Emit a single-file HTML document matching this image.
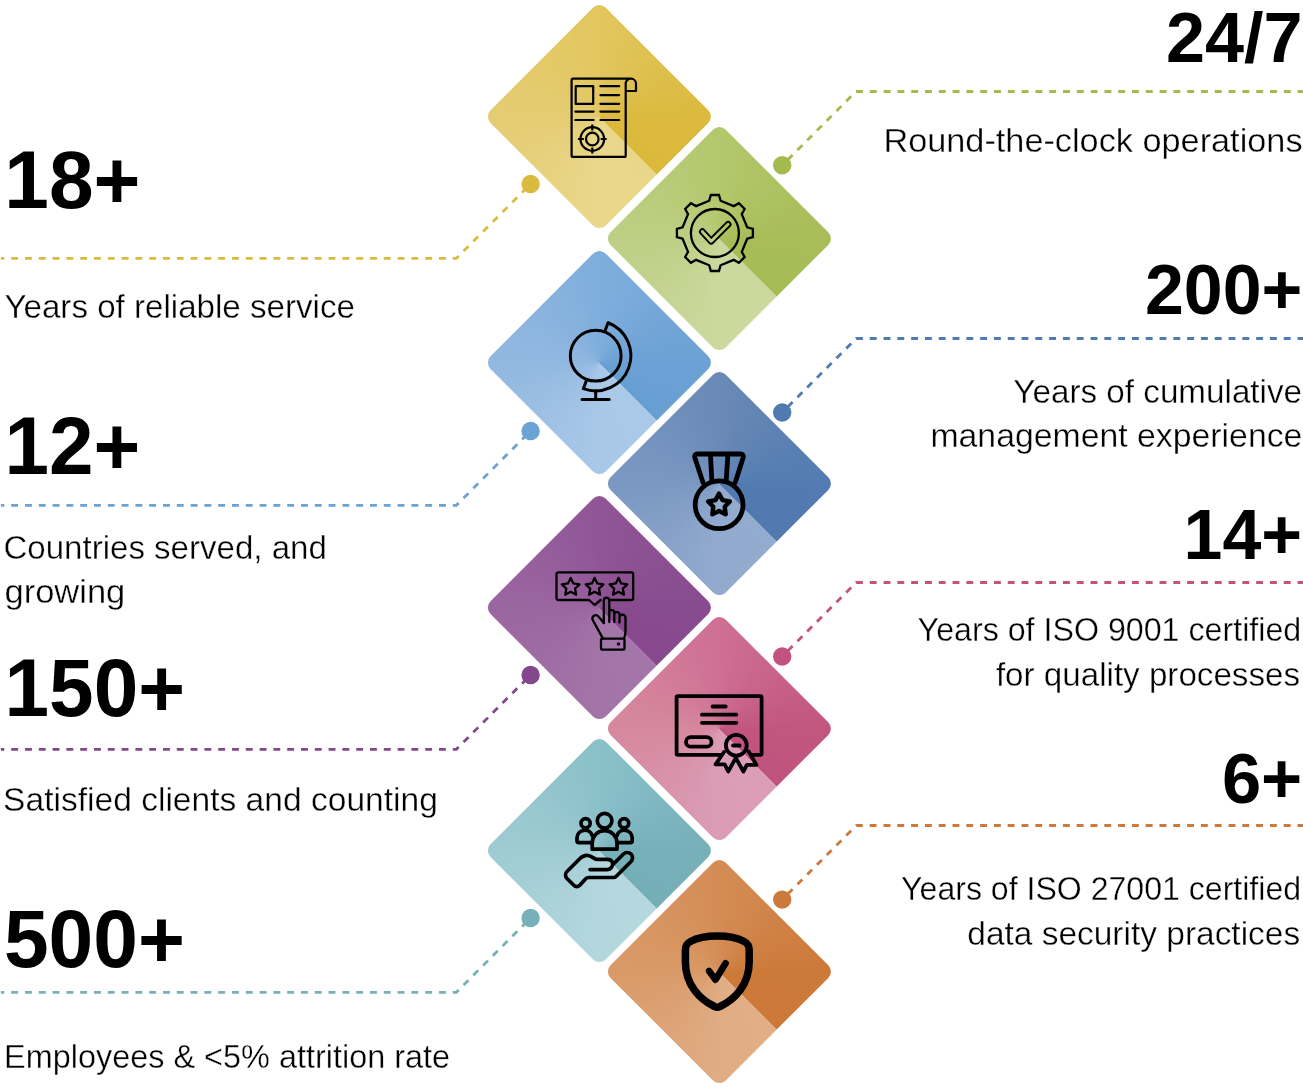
<!DOCTYPE html><html><head><meta charset="utf-8"><style>html,body{margin:0;padding:0;background:#fff}body{width:1303px;height:1088px;overflow:hidden;position:relative}svg{position:absolute;left:0;top:0}text{font-family:"Liberation Sans",sans-serif;fill:#000}</style></head><body>
<div style="position:absolute;left:517.95px;top:35.20px;width:162.8px;height:162.8px;border-radius:9.0px;transform:rotate(45deg);background:conic-gradient(from 90deg, #E9D68A 0deg, #EAD78B 45deg, #E4CC72 135deg, #E2C65E 225deg, #DBBA3F 315deg, #DAB93B 360deg)"></div>
<div style="position:absolute;left:638.05px;top:156.90px;width:162.8px;height:162.8px;border-radius:9.0px;transform:rotate(45deg);background:conic-gradient(from 90deg, #CBD99E 0deg, #CBD99E 45deg, #BDCF84 135deg, #B3C76C 225deg, #A8BD58 315deg, #A6BC55 360deg)"></div>
<div style="position:absolute;left:517.95px;top:280.60px;width:162.8px;height:162.8px;border-radius:9.0px;transform:rotate(45deg);background:conic-gradient(from 90deg, #ABC9E9 0deg, #A9C8E8 45deg, #92B8E0 135deg, #7FAEDC 225deg, #6BA1D4 315deg, #689FD3 360deg)"></div>
<div style="position:absolute;left:638.05px;top:402.20px;width:162.8px;height:162.8px;border-radius:9.0px;transform:rotate(45deg);background:conic-gradient(from 90deg, #93ABCF 0deg, #92AACE 45deg, #7A98C2 135deg, #6A89B6 225deg, #527CB1 315deg, #4F79AF 360deg)"></div>
<div style="position:absolute;left:517.95px;top:525.90px;width:162.8px;height:162.8px;border-radius:9.0px;transform:rotate(45deg);background:conic-gradient(from 90deg, #A475A9 0deg, #A374A8 45deg, #9A66A0 135deg, #905596 225deg, #894B8F 315deg, #87488E 360deg)"></div>
<div style="position:absolute;left:638.05px;top:647.20px;width:162.8px;height:162.8px;border-radius:9.0px;transform:rotate(45deg);background:conic-gradient(from 90deg, #DB9EB6 0deg, #DA9DB5 45deg, #D6889F 135deg, #CE6F93 225deg, #C2567F 315deg, #C0537D 360deg)"></div>
<div style="position:absolute;left:517.95px;top:768.50px;width:162.8px;height:162.8px;border-radius:9.0px;transform:rotate(45deg);background:conic-gradient(from 90deg, #B5D8DE 0deg, #B4D7DE 45deg, #9FCBD3 135deg, #8BC0C9 225deg, #76B0B9 315deg, #74AFB8 360deg)"></div>
<div style="position:absolute;left:638.05px;top:890.30px;width:162.8px;height:162.8px;border-radius:9.0px;transform:rotate(45deg);background:conic-gradient(from 90deg, #E1AE86 0deg, #E0AC84 45deg, #D99A68 135deg, #D48C55 225deg, #CC7A3A 315deg, #CB7838 360deg)"></div>
<svg width="1303" height="1088" viewBox="0 0 1303 1088">
<defs>
</defs>
<path d="M0.9 258.4 H456.2 L530.6 184.0" fill="none" stroke="#DBBB3F" stroke-width="2.8" stroke-dasharray="6.9 6.9" stroke-dashoffset="3.5"/>
<circle cx="530.6" cy="184.0" r="9.2" fill="#DBBB3F"/>
<path d="M0.9 505.3 H456.3 L530.6 431.0" fill="none" stroke="#6CA3D5" stroke-width="2.8" stroke-dasharray="6.9 6.9" stroke-dashoffset="3.5"/>
<circle cx="530.6" cy="431.0" r="9.2" fill="#6CA3D5"/>
<path d="M0.9 749.3 H456.3 L530.6 675.0" fill="none" stroke="#83488C" stroke-width="2.8" stroke-dasharray="6.9 6.9" stroke-dashoffset="3.5"/>
<circle cx="530.6" cy="675.0" r="9.2" fill="#83488C"/>
<path d="M0.9 992.3 H456.3 L530.6 918.0" fill="none" stroke="#76B0B9" stroke-width="2.8" stroke-dasharray="6.9 6.9" stroke-dashoffset="3.5"/>
<circle cx="530.6" cy="918.0" r="9.2" fill="#76B0B9"/>
<path d="M782.2 165.3 L856.0 91.5 H1303" fill="none" stroke="#A2BA4E" stroke-width="2.8" stroke-dasharray="6.9 6.9" stroke-dashoffset="6.0"/>
<circle cx="782.2" cy="165.3" r="9.2" fill="#A2BA4E"/>
<path d="M782.2 412.5 L856.2 338.5 H1303" fill="none" stroke="#4F7AB2" stroke-width="2.8" stroke-dasharray="6.9 6.9" stroke-dashoffset="6.0"/>
<circle cx="782.2" cy="412.5" r="9.2" fill="#4F7AB2"/>
<path d="M782.2 656.5 L856.2 582.5 H1303" fill="none" stroke="#C2537F" stroke-width="2.8" stroke-dasharray="6.9 6.9" stroke-dashoffset="6.0"/>
<circle cx="782.2" cy="656.5" r="9.2" fill="#C2537F"/>
<path d="M782.2 899.6 L856.3 825.5 H1303" fill="none" stroke="#CB7A3C" stroke-width="2.8" stroke-dasharray="6.9 6.9" stroke-dashoffset="6.0"/>
<circle cx="782.2" cy="899.6" r="9.2" fill="#CB7A3C"/>
<g fill="none" stroke="#000" stroke-linecap="round" stroke-linejoin="round">
<g stroke-width="2.2">
<path d="M625.7 91 V155.4 q0 1.5 -1.5 1.5 H573.1 q-1.5 0 -1.5 -1.5 V80.2 q0 -1.5 1.5 -1.5 H631 a5 5 0 0 1 5 5 V91 H625.7 V84 a5 5 0 0 1 5 -5.3"/>
<rect x="575.7" y="86.2" width="17.5" height="17.7"/>
<path d="M600.4 86.2 H619.2"/>
<path d="M600.4 95.1 H619.2"/>
<path d="M600.4 103.8 H619.2"/>
<path d="M600.4 111.6 H619.2"/>
<path d="M600.4 120 H619.2"/>
<path d="M575.3 111.6 H593.6"/>
<path d="M575.3 120 H593.6"/>
<circle cx="592.3" cy="139" r="11.8"/><circle cx="592.3" cy="139" r="6.3"/>
<path d="M592.3 124.6 V130.6 M592.3 147.4 V153.4 M577.9 139 H583.9 M600.7 139 H606.7" stroke-linecap="butt"/>
</g>
<path d="M709.20 200.70 L710.84 195.02 L718.96 195.02 L720.60 200.70 L733.71 206.13 L738.89 203.27 L744.63 209.01 L741.77 214.19 L747.20 227.30 L752.88 228.94 L752.88 237.06 L747.20 238.70 L741.77 251.81 L744.63 256.99 L738.89 262.73 L733.71 259.87 L720.60 265.30 L718.96 270.98 L710.84 270.98 L709.20 265.30 L696.09 259.87 L690.91 262.73 L685.17 256.99 L688.03 251.81 L682.60 238.70 L676.92 237.06 L676.92 228.94 L682.60 227.30 L688.03 214.19 L685.17 209.01 L690.91 203.27 L696.09 206.13 Z" stroke-width="2.3" stroke-linejoin="miter"/>
<circle cx="714.9" cy="233.0" r="24" stroke-width="2.3"/>
<mask id="ck" maskUnits="userSpaceOnUse" x="680" y="200" width="80" height="80"><rect x="680" y="200" width="80" height="80" fill="#fff"/><path d="M702.4 231.7 L711.2 241.2 L728.1 224.3" stroke="#000" stroke-width="3.0" fill="none" stroke-linecap="round" stroke-linejoin="round"/></mask>
<path d="M702.4 231.7 L711.2 241.2 L728.1 224.3" stroke-width="6.8" mask="url(#ck)"/>
<g stroke-width="3">
<circle cx="595.7" cy="355.7" r="25.4"/>
<path d="M605.16 330.41 L608.03 322.73 A35.2 35.2 0 0 1 583.37 388.67 L586.24 380.99"/>
<path d="M595.7 390.7 V399.4 M582 399.4 H609.2"/>
</g>
<g stroke-width="4.8">
<circle cx="719.1" cy="504.8" r="23.9"/>
<path d="M703 482.5 L694.8 457.5 Q694 454 697.5 454 H740.5 Q744 454 743.2 457.5 L735.2 482.5"/>
<path d="M710.5 456 L711.8 479.5 M727.8 456 L726.3 479.5"/>
<path d="M719.00 493.60 L722.53 500.15 L729.84 501.48 L724.71 506.85 L725.70 514.22 L719.00 511.00 L712.30 514.22 L713.29 506.85 L708.16 501.48 L715.47 500.15 Z" stroke-width="4.4"/>
</g>
<g stroke-width="2.3">
<path d="M609.5 600 H631.2 q2 0 2 -2 V574.4 q0 -2 -2 -2 H558.5 q-2 0 -2 2 V598 q0 2 2 2 H589.1 L594.6 605 L600.6 600"/>
<path d="M570.70 577.90 L573.40 583.48 L579.54 584.33 L575.07 588.62 L576.17 594.72 L570.70 591.80 L565.23 594.72 L566.33 588.62 L561.86 584.33 L568.00 583.48 Z"/>
<path d="M594.60 577.90 L597.30 583.48 L603.44 584.33 L598.97 588.62 L600.07 594.72 L594.60 591.80 L589.13 594.72 L590.23 588.62 L585.76 584.33 L591.90 583.48 Z"/>
<path d="M618.50 577.90 L621.20 583.48 L627.34 584.33 L622.87 588.62 L623.97 594.72 L618.50 591.80 L613.03 594.72 L614.13 588.62 L609.66 584.33 L615.80 583.48 Z"/>
<path d="M603.8 623 V600.5 a2.75 2.75 0 0 1 5.5 0 V622 M609.3 612.6 a2.5 2.5 0 0 1 5 0 V622 M614.3 614.8 a2.6 2.6 0 0 1 5.2 0 V622.5 M619.5 617.6 a3 3 0 0 1 6 0 V631 Q625.5 635 624 638.6"/>
<path d="M603.8 623 L598.5 616.5 Q596 614 593.5 616 Q591.5 618 593 620.5 L603 638.6"/>
<rect x="601" y="638.6" width="23.5" height="11" rx="1.2"/>
<circle cx="618.5" cy="644.1" r="0.6" fill="#000"/>
</g>
<g stroke-width="3.8">
<path d="M721.5 754.8 H678 q-1.4 0 -1.4 -1.4 V697.6 q0 -1.4 1.4 -1.4 H760.2 q1.4 0 1.4 1.4 V753.4 q0 1.4 -1.4 1.4 H752"/>
<path d="M712.5 706.5 H725.7 M701.9 714.7 H736.3 M701.9 722.8 H736.3"/>
<rect x="686" y="737.2" width="25.5" height="9.4" rx="4.7"/>
<circle cx="736.3" cy="745.2" r="10.4"/>
<path d="M733 745.5 H739.6"/>
<path d="M724 752 L715.6 764.4 H724.7 L728.2 771.5 L735.8 757.9 L743.4 771.5 L746.9 764.9 H756.5 L748.6 751.5"/>
</g>
<g stroke-width="3.7">
<circle cx="604.6" cy="820.7" r="7.3"/>
<circle cx="585.6" cy="823.2" r="4.6"/><circle cx="624.1" cy="823.2" r="4.6"/>
<path d="M592.2 849.2 V843 A12.4 12.4 0 0 1 617 843 V849.2 Z"/>
<path d="M591.5 842.6 H578.9 Q577 842.6 577 840.7 V837.6 A7.8 7.8 0 0 1 592.2 835.6"/>
<path d="M617.7 842.6 H630.3 Q632.2 842.6 632.2 840.7 V837.6 A7.8 7.8 0 0 0 617 835.6"/>
<path d="M590.1 869.6 H607 C611 869.6 613.5 866 612.5 862.5 C611.5 860 609.5 859.3 607 859.3 H597 C594 859.3 592 856 588 855.5 C584 855 582 856.5 580 858.5 L567 871.5 C565 873.5 565 876.5 567 878.5 L573.5 885 C575.5 887 578 887 580 885 L585 879.5 C586 878 587 877.5 588.5 877.5 H613.5 C614.5 877.5 615.5 877 616.3 876.2 L631 861.5 C633 859.5 633 856 631 854 C629 852 625.5 852 623.5 854 L613.5 864"/>
</g>
<path d="M717.3 936 C706 936 696 938.5 690.5 941.5 Q685.4 944 685.4 950 V962 C685.4 985 700 999.5 714.5 1006.5 Q717.3 1008 720.1 1006.5 C734.6 999.5 749.2 985 749.2 962 V950 Q749.2 944 744.1 941.5 C738.6 938.5 728.6 936 717.3 936 Z" stroke-width="7.5"/>
<path d="M709.1 971 L715.5 979.7 L725.6 963.2" stroke-width="6.6"/>
</g>
</svg>
<svg width="1303" height="1088" viewBox="0 0 1303 1088" style="will-change:transform">
<text x="4.25" y="208.30" font-size="81" font-weight="bold" text-anchor="start" textLength="136.13" lengthAdjust="spacingAndGlyphs">18+</text>
<text x="4.56" y="473.70" font-size="81" font-weight="bold" text-anchor="start" textLength="135.81" lengthAdjust="spacingAndGlyphs">12+</text>
<text x="4.55" y="715.70" font-size="81" font-weight="bold" text-anchor="start" textLength="180.46" lengthAdjust="spacingAndGlyphs">150+</text>
<text x="3.92" y="967.20" font-size="81" font-weight="bold" text-anchor="start" textLength="181.11" lengthAdjust="spacingAndGlyphs">500+</text>
<text x="1302.45" y="62.00" font-size="70" font-weight="bold" text-anchor="end" textLength="136.46" lengthAdjust="spacingAndGlyphs">24/7</text>
<text x="1302.37" y="313.50" font-size="70" font-weight="bold" text-anchor="end" textLength="157.36" lengthAdjust="spacingAndGlyphs">200+</text>
<text x="1302.15" y="559.30" font-size="70" font-weight="bold" text-anchor="end" textLength="118.54" lengthAdjust="spacingAndGlyphs">14+</text>
<text x="1302.23" y="802.90" font-size="70" font-weight="bold" text-anchor="end" textLength="80.35" lengthAdjust="spacingAndGlyphs">6+</text>
<text x="4.48" y="317.50" font-size="32.5" text-anchor="start" textLength="350.40" lengthAdjust="spacingAndGlyphs" stroke="#fff" stroke-width="0.35">Years of reliable service</text>
<text x="3.47" y="559.40" font-size="32.5" text-anchor="start" textLength="323.34" lengthAdjust="spacingAndGlyphs" stroke="#fff" stroke-width="0.35">Countries served, and</text>
<text x="4.44" y="603.30" font-size="32.5" text-anchor="start" textLength="120.90" lengthAdjust="spacingAndGlyphs" stroke="#fff" stroke-width="0.35">growing</text>
<text x="3.13" y="810.90" font-size="32.5" text-anchor="start" textLength="434.70" lengthAdjust="spacingAndGlyphs" stroke="#fff" stroke-width="0.35">Satisfied clients and counting</text>
<text x="4.11" y="1068.10" font-size="32.5" text-anchor="start" textLength="446.00" lengthAdjust="spacingAndGlyphs" stroke="#fff" stroke-width="0.35">Employees &amp; &lt;5% attrition rate</text>
<text x="1302.53" y="152.20" font-size="32.5" text-anchor="end" textLength="419.10" lengthAdjust="spacingAndGlyphs" stroke="#fff" stroke-width="0.35">Round-the-clock operations</text>
<text x="1302.07" y="403.10" font-size="32.5" text-anchor="end" textLength="288.69" lengthAdjust="spacingAndGlyphs" stroke="#fff" stroke-width="0.35">Years of cumulative</text>
<text x="1302.40" y="447.30" font-size="32.5" text-anchor="end" textLength="371.98" lengthAdjust="spacingAndGlyphs" stroke="#fff" stroke-width="0.35">management experience</text>
<text x="1301.21" y="641.20" font-size="32.5" text-anchor="end" textLength="383.60" lengthAdjust="spacingAndGlyphs" stroke="#fff" stroke-width="0.35">Years of ISO 9001 certified</text>
<text x="1300.08" y="685.80" font-size="32.5" text-anchor="end" textLength="304.18" lengthAdjust="spacingAndGlyphs" stroke="#fff" stroke-width="0.35">for quality processes</text>
<text x="1301.08" y="899.70" font-size="32.5" text-anchor="end" textLength="399.97" lengthAdjust="spacingAndGlyphs" stroke="#fff" stroke-width="0.35">Years of ISO 27001 certified</text>
<text x="1300.18" y="944.50" font-size="32.5" text-anchor="end" textLength="332.91" lengthAdjust="spacingAndGlyphs" stroke="#fff" stroke-width="0.35">data security practices</text>
</svg></body></html>
